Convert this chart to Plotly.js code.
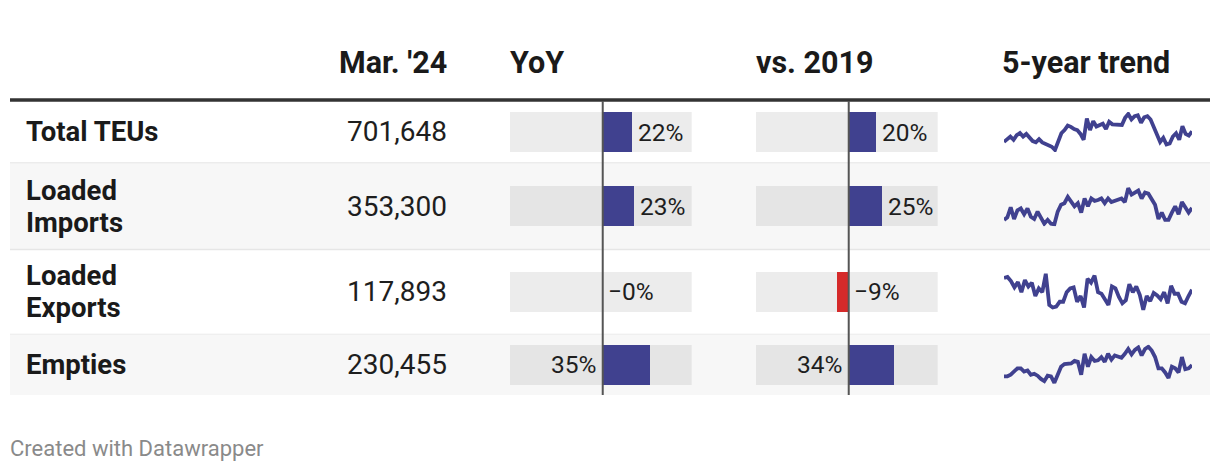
<!DOCTYPE html>
<html><head><meta charset="utf-8">
<script src="https://cdn.plot.ly/plotly-3.0.1.min.js"></script>
<style>html,body{margin:0;padding:0;background:#fff;}#chart{width:1220px;height:472px;}</style>
</head><body><div id="chart"></div><script>
// ---------- DATA ----------
const categories = ["Total TEUs", "Loaded<br>Imports", "Loaded<br>Exports", "Empties"];
const headers = ["Mar. '24", "YoY", "vs. 2019", "5-year trend"];
const mar24 = [701648, 353300, 117893, 230455];
const yoy = [22, 23, -0.2, 35];
const vs2019 = [20, 25, -9, 34];
const yoyLabels = ["22%", "23%", "\u22120%", "35%"];
const vs2019Labels = ["20%", "25%", "\u22129%", "34%"];
// 5-year monthly trend (thousand TEUs), read from the sparklines
const trendTotal = [604,624,654,624,666,687,654,678,642,612,600,630,600,586,580,559,529,603,684,714,755,744,723,714,678,624,821,714,797,747,758,773,723,791,767,767,764,761,827,863,812,842,851,782,833,842,812,744,654,603,642,580,589,654,684,624,750,678,663,702];
const trendImports = [285,299,357,290,339,350,317,350,303,290,332,299,263,285,263,260,332,371,380,416,389,362,380,326,407,362,407,393,398,407,380,407,386,393,404,407,386,465,429,440,452,407,440,434,407,371,290,326,285,285,326,362,317,386,357,326,353];
const trendExports = [134.5,135.9,130.1,121.1,128.7,114.3,131.4,122.4,127.8,108.9,119.7,114.3,140.4,96.3,92.7,94.1,100.8,100.8,114.3,119.7,121.1,100.8,108.9,92.7,133.2,127.8,137.7,114.3,112.1,103.1,96.3,122.4,119.7,107.6,98.6,103.1,125.6,114.3,122.4,110.7,89.5,108.9,101.7,113.4,109.8,104.4,114.3,98.6,123.3,112.1,112.1,100.8,98.6,108.9,117.9];
const trendEmpties = [199,199,203.5,212.5,221.5,221.5,212.5,215.2,203.5,206.2,200.8,191.8,185.5,200.8,199,181,203.5,226,233.2,233.2,235,242.2,239.5,203.5,262,226,253,242.2,244,253,239.5,262,245.8,257.5,253,251.2,262,275.5,260.2,272.8,280,257.5,275.5,281.8,271,253,221.5,221.5,209.8,194.5,226,221.5,209.8,253,218.8,221.5,230.5];
const trends = [trendTotal, trendImports, trendExports, trendEmpties];

// ---------- LAYOUT CONSTANTS ----------
const W = 1220, H = 472;
const px = x => x / W, py = y => 1 - y / H;
const FONT = "Roboto, 'Noto Sans', sans-serif";
const BLUE = "#40418f", RED = "#d52a2a";
const XR = [-69.2, 66.4];
const rowTop = [101.5, 163.5, 249.5, 334.5];
const rowBot = [162.5, 249, 334, 395];
const centers = rowTop.map((t, i) => (t + rowBot[i]) / 2);
const rowShade = [false, true, false, true];
const barH = 40;
const lineH = 32;

const traces = [];
const bgColors = rowShade.map(s => s ? "#e5e5e5" : "#ececec");
[["x", yoy], ["x2", vs2019]].forEach(([ax, vals]) => {
  traces.push({type: "bar", orientation: "h", xaxis: ax, yaxis: "y",
    x: vals.map(() => XR[1] - XR[0]), base: XR[0], y: centers, width: barH,
    marker: {color: bgColors, line: {width: 0}}, hoverinfo: "skip"});
  traces.push({type: "bar", orientation: "h", xaxis: ax, yaxis: "y",
    x: vals, y: centers, width: barH,
    marker: {color: vals.map(v => v < 0 ? RED : BLUE), line: {width: 0}}, hoverinfo: "skip"});
});
trends.forEach((s, i) => {
  traces.push({type: "scatter", mode: "lines", xaxis: "x" + (i + 3), yaxis: "y" + (i + 3),
    x: s.map((_, k) => k), y: s, line: {color: BLUE, width: 3.8}, hoverinfo: "skip"});
});

const layout = {
  width: W, height: H, margin: {l: 0, r: 0, t: 0, b: 0},
  paper_bgcolor: "#fff", plot_bgcolor: "rgba(0,0,0,0)", showlegend: false,
  barmode: "overlay", bargap: 0,
  xaxis: {domain: [px(510), px(691.7)], range: XR, visible: false, anchor: "y", fixedrange: true},
  xaxis2: {domain: [px(756), px(937.7)], range: XR, visible: false, anchor: "y", fixedrange: true},
  yaxis: {domain: [0, 1], range: [H, 0], visible: false, anchor: "x", fixedrange: true},
  shapes: [], annotations: []
};
trends.forEach((s, i) => {
  layout["xaxis" + (i + 3)] = {domain: [px(1004), px(1192)], visible: false, anchor: "y" + (i + 3), autorange: true};
  layout["yaxis" + (i + 3)] = {domain: [py(centers[i] + barH / 2), py(centers[i] - barH / 2)], visible: false, anchor: "x" + (i + 3), autorange: true};
});

// row backgrounds & separators
rowShade.forEach((s, i) => {
  if (s) layout.shapes.push({type: "rect", xref: "paper", yref: "paper", x0: px(10), x1: px(1210),
    y0: py(rowBot[i]), y1: py(rowTop[i]), fillcolor: "#f7f7f7", line: {width: 0}, layer: "below"});
  if (i < 3) layout.shapes.push({type: "line", xref: "paper", yref: "paper", x0: px(10), x1: px(1210),
    y0: py(rowBot[i] + 0.5), y1: py(rowBot[i] + 0.5), line: {color: "#e6e6e6", width: 1.5}, layer: "below"});
});
// header rule
layout.shapes.push({type: "line", xref: "paper", yref: "paper", x0: px(10), x1: px(1210),
  y0: py(100), y1: py(100), line: {color: "#333333", width: 3.5}});
// zero lines
["x", "x2"].forEach(ax => layout.shapes.push({type: "line", xref: ax, yref: "paper", x0: 0, x1: 0,
  y0: py(101), y1: py(395), line: {color: "#555555", width: 2}, layer: "above"}));

const ann = (o) => layout.annotations.push(Object.assign({showarrow: false, xref: "paper", yref: "paper"}, o));
// headers
const hFont = {family: FONT, size: 30.5, color: "#1a1a1a", weight: 700};
ann({text: headers[0], x: px(449), xanchor: "right", y: py(63), yanchor: "middle", font: hFont});
ann({text: headers[1], x: px(508), xanchor: "left", y: py(63), yanchor: "middle", font: hFont});
ann({text: headers[2], x: px(754), xanchor: "left", y: py(63), yanchor: "middle", font: hFont});
ann({text: headers[3], x: px(1000), xanchor: "left", y: py(63), yanchor: "middle", font: hFont});
// row labels and values
categories.forEach((c, i) => {
  const lines = c.split("<br>");
  lines.forEach((t, k) => {
    const yy = centers[i] + (k - (lines.length - 1) / 2) * lineH;
    ann({text: t, x: px(24), xanchor: "left", align: "left", y: py(yy), yanchor: "middle",
      font: {family: FONT, size: 27.5, color: "#1a1a1a", weight: 700}});
  });
  ann({text: mar24[i].toLocaleString("en-US"), x: px(449), xanchor: "right", y: py(centers[i]), yanchor: "middle",
    font: {family: FONT, size: 28, color: "#1e1e1e"}});
});
// bar labels
[["x", yoy, yoyLabels], ["x2", vs2019, vs2019Labels]].forEach(([ax, vals, labs]) => {
  vals.forEach((v, i) => {
    const room = XR[1] - v;
    let x, xanchor, xshift;
    if (v < 0) { x = 0; xanchor = "left"; xshift = 3; }
    else if (room < 34) { x = 0; xanchor = "right"; xshift = -5; }
    else { x = v; xanchor = "left"; xshift = 4; }
    layout.annotations.push({showarrow: false, xref: ax, yref: "y", x: x, y: centers[i], xanchor: xanchor,
      yanchor: "middle", xshift: xshift, text: labs[i], font: {family: FONT, size: 24.5, color: "#1e1e1e"}});
  });
});
// footer
ann({text: "Created with Datawrapper", x: px(8), xanchor: "left", y: py(448), yanchor: "middle",
  font: {family: FONT, size: 22, color: "#8a8a8a"}});

Plotly.newPlot("chart", traces, layout, {staticPlot: true, displayModeBar: false});
</script></body></html>
